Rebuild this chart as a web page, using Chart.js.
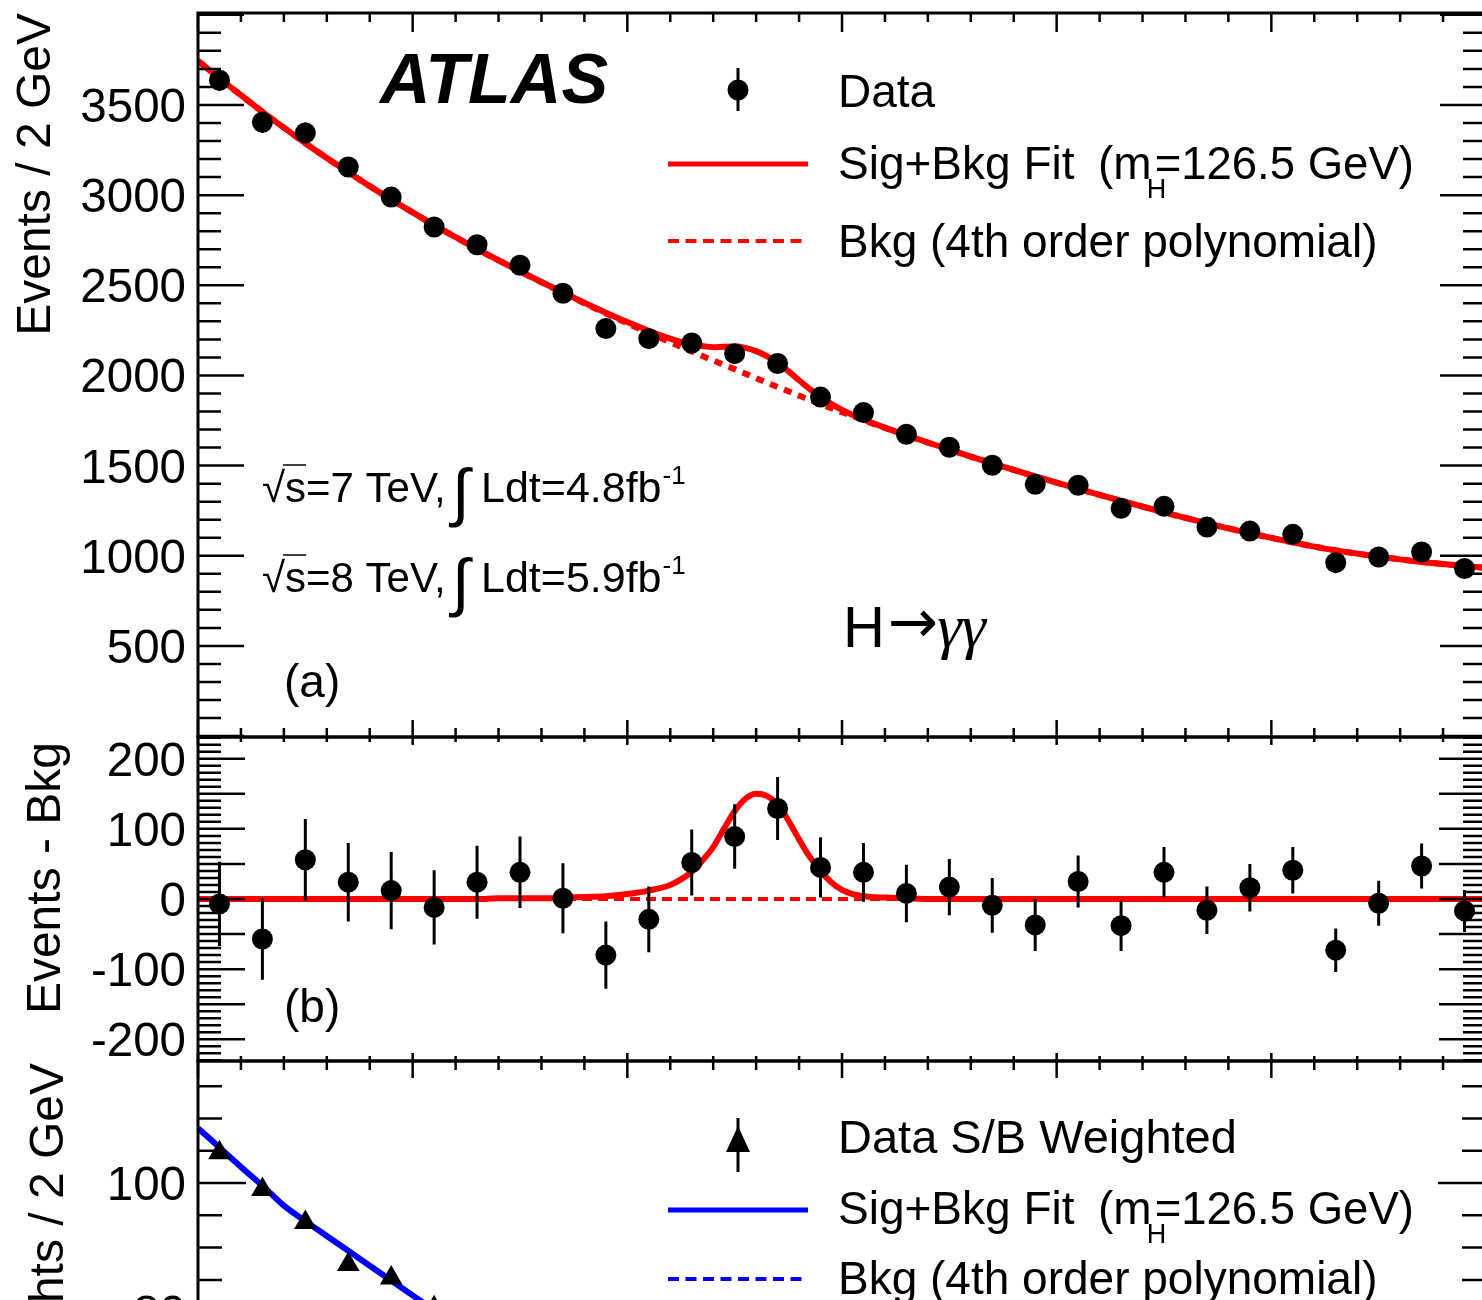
<!DOCTYPE html>
<html>
<head>
<meta charset="utf-8">
<title>ATLAS H→γγ diphoton mass spectrum</title>
<script src="https://cdn.jsdelivr.net/npm/chart.js@4.4.1/dist/chart.umd.min.js"></script>
<style>
  html, body { margin: 0; padding: 0; background: #fff; overflow: hidden; }
  #wrap { position: relative; width: 1482px; height: 1300px; overflow: hidden; }
  #wrap canvas { position: absolute; left: 0; top: 0; }
</style>
</head>
<body>
<div id="wrap">
  <canvas id="panelA" width="1490" height="1420"></canvas>
  <canvas id="panelB" width="1490" height="1420"></canvas>
  <canvas id="panelC" width="1490" height="1420"></canvas>
</div>
<script>
// diphoton mass bins (GeV), 2 GeV wide
const massBins = [101, 103, 105, 107, 109, 111, 113, 115, 117, 119, 121, 123, 125, 127, 129,
                  131, 133, 135, 137, 139, 141, 143, 145, 147, 149, 151, 153, 155, 157, 159];
const eventsData = [3637, 3404, 3345, 3156, 2989, 2823, 2725, 2611, 2456, 2260, 2204, 2180, 2121, 2066, 1880,
                    1794, 1674, 1602, 1502, 1396, 1391, 1263, 1274, 1159, 1137, 1119, 962, 993, 1021, 929];
const eventsErr = [60, 58, 58, 56, 55, 53, 52, 51, 50, 48, 47, 47, 46, 45, 43,
                   42, 41, 40, 39, 37, 37, 36, 36, 34, 34, 33, 31, 32, 32, 30];
const eventsMinusBkg = [-7, -57, 56, 24, 12, -12, 24, 38, 1, -80, -29, 52, 89, 129, 45,
                        38, 8, 17, -9, -37, 25, -38, 38, -16, 16, 41, -73, -6, 47, -17];

// fitted curves (GeV -> events / 2 GeV)
const curveMass = [100, 101, 102, 103, 104, 105, 106, 107, 108, 109, 110, 111, 112, 113, 114, 115, 116, 117, 118, 119,
                   120, 121, 122, 122.5, 123, 123.5, 124, 124.5, 125, 125.5, 126, 126.5, 127, 127.5, 128, 128.5,
                   129, 129.5, 130, 130.5, 131, 132, 133, 134, 135, 136, 137, 138, 139, 140, 141, 142, 143, 144,
                   145, 146, 147, 148, 149, 150, 151, 152, 153, 154, 155, 156, 157, 158, 159, 160];
const bkgCurve = [3745, 3648, 3554, 3462, 3374, 3288, 3206, 3127, 3050, 2976, 2904, 2834, 2767, 2701, 2638, 2577, 2517, 2458, 2400, 2344,
                  2289, 2236, 2184, 2158, 2133, 2108, 2083, 2059, 2035, 2010, 1985, 1960, 1936, 1912, 1888, 1864,
                  1841, 1818, 1796, 1774, 1752, 1709, 1668, 1628, 1589, 1550, 1513, 1476, 1440, 1405, 1371, 1338, 1305, 1273,
                  1241, 1210, 1180, 1152, 1125, 1099, 1074, 1051, 1030, 1012, 995, 980, 966, 954, 943, 933];
const sigCurve = [0, 0, 0, 0, 0, 0, 0, 0, 0, 0, 0, 0, 0, 0, 1, 1, 1, 2, 3, 4,
                  7, 12, 20, 28, 39, 55, 74, 100, 125, 143, 150, 147, 135, 112, 85, 60,
                  40, 24, 13, 7, 4, 2, 1, 0, 0, 0, 0, 0, 0, 0, 0, 0, 0, 0,
                  0, 0, 0, 0, 0, 0, 0, 0, 0, 0, 0, 0, 0, 0, 0, 0];

// S/B weighted panel (only the top of it is in view)
const weightedMass = [101, 103, 105, 107, 109, 111];
const weightedData = [104.7, 99.0, 93.9, 87.4, 85.3, 80.7];
const weightedCurveMass = [100, 101, 102, 103, 104, 105, 106, 107, 108, 109, 110, 111, 112];
const weightedFit = [108.5, 105.5, 102.5, 99.6, 96.5, 94.1, 91.8, 89.5, 87.2, 84.9, 82.6, 80.3, 78.0];
const weightedBkg = [108.5, 105.5, 102.5, 99.6, 96.5, 94.1, 91.8, 89.5, 87.2, 84.9, 82.6, 80.3, 78.0];

// tick labels per panel
const labelsA = [500, 1000, 1500, 2000, 2500, 3000, 3500];
const labelsB = [-200, -100, 0, 100, 200];
const labelsC = [80, 100];

const RED = '#ff0000';
const BLUE = '#0000ff';
const FACE = '"Liberation Sans", Arial, Helvetica, sans-serif';
const font = (size, style) => (style ? style + ' ' : '') + size + 'px ' + FACE;
const pts = (xs, ys) => xs.map((x, i) => ({ x: x, y: ys[i] }));

function txt(ctx, s, x, y, size, style, face) {
  ctx.font = face ? (style ? style + ' ' : '') + size + 'px ' + face : font(size, style);
  ctx.textAlign = 'left';
  ctx.textBaseline = 'alphabetic';
  ctx.fillStyle = '#000';
  ctx.fillText(s, x, y);
  return x + ctx.measureText(s).width;
}

function vTitle(ctx, s, xBase, yEnd, size) {
  ctx.save();
  ctx.translate(xBase, yEnd);
  ctx.rotate(-Math.PI / 2);
  ctx.font = font(size);
  ctx.textAlign = 'right';
  ctx.textBaseline = 'alphabetic';
  ctx.fillStyle = '#000';
  ctx.fillText(s, 0, 0);
  ctx.restore();
}

function hLine(ctx, x0, x1, y, color, width, dash) {
  ctx.save();
  ctx.strokeStyle = color;
  ctx.lineWidth = width;
  ctx.setLineDash(dash || []);
  ctx.beginPath();
  ctx.moveTo(x0, y);
  ctx.lineTo(x1, y);
  ctx.stroke();
  ctx.restore();
}

// ROOT style frame: inward ticks on all four sides
function rootFrame(cfg) {
  return {
    id: 'rootFrame',
    afterDraw(chart) {
      const { ctx, chartArea: a } = chart;
      const xs = chart.scales.x, ys = chart.scales.y;
      ctx.save();
      ctx.strokeStyle = '#000';
      ctx.lineWidth = 3;
      ctx.strokeRect(a.left, a.top, a.right - a.left, a.bottom - a.top);
      ctx.lineWidth = 2.5;
      ctx.beginPath();
      for (let m = 100; m <= 160; m += 2) {
        const px = xs.getPixelForValue(m);
        const major = m % 10 === 0;
        ctx.moveTo(px, a.top);
        ctx.lineTo(px, a.top + (major ? cfg.xTop[0] : cfg.xTop[1]));
        ctx.moveTo(px, a.bottom);
        ctx.lineTo(px, a.bottom - (major ? cfg.xBot[0] : cfg.xBot[1]));
      }
      const first = Math.ceil(ys.min / cfg.yMinor) * cfg.yMinor;
      for (let v = first; v <= ys.max; v += cfg.yMinor) {
        const py = ys.getPixelForValue(v);
        const len = Math.round(v) % cfg.yMajor === 0 ? cfg.yLen[0] : cfg.yLen[1];
        ctx.moveTo(a.left, py);
        ctx.lineTo(a.left + len, py);
        ctx.moveTo(a.right, py);
        ctx.lineTo(a.right - len, py);
      }
      ctx.stroke();

      ctx.fillStyle = '#000';
      ctx.font = font(47.5);
      ctx.textAlign = 'right';
      ctx.textBaseline = 'alphabetic';
      cfg.labels.forEach(v => {
        const py = ys.getPixelForValue(v);
        if (py < a.top - 2 || py > a.bottom + 2) return;
        ctx.fillText(String(v), 186, py + 17);
      });
      ctx.restore();
      if (cfg.extra) cfg.extra(ctx);
    }
  };
}

function errorBars(errs) {
  return {
    id: 'errorBars',
    afterDatasetsDraw(chart) {
      const { ctx, chartArea: a } = chart;
      const xs = chart.scales.x, ys = chart.scales.y;
      const pts0 = chart.data.datasets[0].data;
      ctx.save();
      ctx.beginPath();
      ctx.rect(a.left, a.top, a.right - a.left, a.bottom - a.top);
      ctx.clip();
      ctx.strokeStyle = '#000';
      ctx.lineWidth = 3;
      ctx.beginPath();
      pts0.forEach((p, i) => {
        const px = xs.getPixelForValue(p.x);
        ctx.moveTo(px, ys.getPixelForValue(p.y - errs[i]));
        ctx.lineTo(px, ys.getPixelForValue(p.y + errs[i]));
      });
      ctx.stroke();
      ctx.restore();
    }
  };
}

function makeChart(id, top, bottom, yMin, yMax, datasets, plugins) {
  return new Chart(document.getElementById(id), {
    type: 'line',
    data: { datasets: datasets },
    options: {
      responsive: false,
      animation: false,
      devicePixelRatio: 1,
      layout: { autoPadding: false, padding: { left: 198, right: 4, top: top, bottom: 1420 - bottom } },
      scales: {
        x: { type: 'linear', min: 100, max: 160, display: false },
        y: { type: 'linear', min: yMin, max: yMax, display: false }
      },
      plugins: { legend: { display: false }, tooltip: { enabled: false } },
      elements: { point: { radius: 0, hoverRadius: 0 } }
    },
    plugins: plugins
  });
}

const dots = (data) => ({
  data: data, showLine: false, pointRadius: 10.5, pointHoverRadius: 10.5,
  pointBackgroundColor: '#000', pointBorderColor: '#000', pointBorderWidth: 0
});
const curve = (data, color, width, dash) => ({
  data: data, borderColor: color, borderWidth: width, borderDash: dash || [],
  pointRadius: 0, cubicInterpolationMode: 'monotone', borderCapStyle: 'butt'
});

// (a) events / 2 GeV
const fitCurve = curveMass.map((m, i) => bkgCurve[i] + sigCurve[i]);
makeChart('panelA', 13, 737, -5, 4010, [
  dots(pts(massBins, eventsData)),
  curve(pts(curveMass, fitCurve), RED, 6),
  curve(pts(curveMass, bkgCurve), RED, 6, [8, 7])
], [errorBars(eventsErr), rootFrame({
  xTop: [19, 9], xBot: [17, 9], yMinor: 100, yMajor: 500, yLen: [46, 23], labels: labelsA,
  extra(ctx) {
    vTitle(ctx, 'Events / 2 GeV', 50, 13, 48);
    txt(ctx, 'ATLAS', 380, 103, 70, 'italic bold');

    // legend
    ctx.save();
    ctx.strokeStyle = '#000';
    ctx.lineWidth = 3;
    ctx.beginPath();
    ctx.moveTo(738, 68);
    ctx.lineTo(738, 111);
    ctx.stroke();
    ctx.fillStyle = '#000';
    ctx.beginPath();
    ctx.arc(738, 90, 10.5, 0, Math.PI * 2);
    ctx.fill();
    ctx.restore();
    txt(ctx, 'Data', 838, 107, 46);
    hLine(ctx, 668, 808, 164, RED, 5);
    txt(ctx, 'Sig+Bkg Fit', 838, 179, 46);
    let x = txt(ctx, '(m', 1098, 179, 46);
    txt(ctx, 'H', x - 5, 198, 27);
    txt(ctx, '=126.5 GeV)', x + 3, 179, 45.5);
    hLine(ctx, 668, 808, 241, RED, 4, [11, 6.5]);
    txt(ctx, 'Bkg (4th order polynomial)', 838, 257, 46);

    // luminosity labels
    [['7', '4.8', 502], ['8', '5.9', 592]].forEach(r => {
      const base = r[2];
      let xx = txt(ctx, '√', 262, base, 42);
      hLine(ctx, xx - 2, xx + 21, base - 37, '#000', 1.5);
      xx = txt(ctx, 's=' + r[0] + ' TeV,', xx, base, 42);
      txt(ctx, '∫', 452, base + 12, 64);
      xx = txt(ctx, 'Ldt=' + r[1] + 'fb', 481, base, 43);
      txt(ctx, '-1', xx + 1, base - 18, 26);
    });
    txt(ctx, '(a)', 284, 697, 46);
    let hx = txt(ctx, 'H', 843, 647, 58);
    hx = txt(ctx, '→', hx + 3, 642, 60, '', '"DejaVu Sans", sans-serif');
    txt(ctx, 'γγ', hx - 1, 647, 62, 'italic', '"Liberation Serif", serif');
  }
})]);

// (b) events - background
makeChart('panelB', 737, 1061, -231, 231, [
  dots(pts(massBins, eventsMinusBkg)),
  curve(pts(curveMass, sigCurve), RED, 6),
  curve(pts(curveMass, curveMass.map(() => 0)), RED, 4, [10, 6])
], [errorBars(eventsErr), rootFrame({
  xTop: [8, 5], xBot: [8, 5], yMinor: 10, yMajor: 50, yLen: [47, 23], labels: labelsB,
  extra(ctx) {
    vTitle(ctx, 'Events - Bkg', 60, 742, 48);
    txt(ctx, '(b)', 284, 1022, 46);
  }
})]);

// (c) S/B weighted
makeChart('panelC', 1061, 1400, 66.4, 118.9, [
  {
    data: pts(weightedMass, weightedData), showLine: false, pointStyle: 'triangle',
    pointRadius: 13, pointHoverRadius: 13, pointBackgroundColor: '#000', pointBorderColor: '#000', pointBorderWidth: 0
  },
  curve(pts(weightedCurveMass, weightedFit), BLUE, 6),
  curve(pts(weightedCurveMass, weightedBkg), BLUE, 4, [10, 6])
], [rootFrame({
  xTop: [17, 9], xBot: [17, 9], yMinor: 5, yMajor: 20, yLen: [48, 24], labels: labelsC,
  extra(ctx) {
    vTitle(ctx, 'Σ weights / 2 GeV', 63, 1063, 48);
    ctx.save();
    ctx.strokeStyle = '#000';
    ctx.lineWidth = 3;
    ctx.beginPath();
    ctx.moveTo(738, 1118);
    ctx.lineTo(738, 1172);
    ctx.stroke();
    ctx.fillStyle = '#000';
    ctx.beginPath();
    ctx.moveTo(738, 1126);
    ctx.lineTo(750, 1152);
    ctx.lineTo(726, 1152);
    ctx.closePath();
    ctx.fill();
    ctx.restore();
    txt(ctx, 'Data S/B Weighted', 838, 1153, 47);
    hLine(ctx, 668, 808, 1210, BLUE, 5);
    txt(ctx, 'Sig+Bkg Fit', 838, 1224, 46);
    let x = txt(ctx, '(m', 1098, 1224, 46);
    txt(ctx, 'H', x - 5, 1243, 27);
    txt(ctx, '=126.5 GeV)', x + 3, 1224, 45.5);
    hLine(ctx, 668, 808, 1279, BLUE, 4, [11, 6.5]);
    txt(ctx, 'Bkg (4th order polynomial)', 838, 1294, 46);
  }
})]);
</script>
</body>
</html>
